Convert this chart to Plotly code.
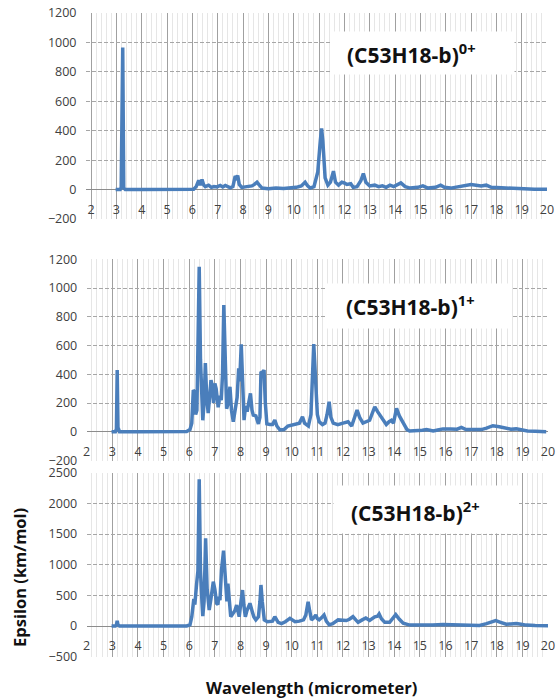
import plotly.graph_objects as go

# ---------------- data ----------------
wl_0 = [2.97, 3.15, 3.19, 3.22, 3.25, 3.29, 3.35, 4.0, 5.0, 5.9, 6.05, 6.15, 6.25, 6.31, 6.38, 6.45,
        6.51, 6.64, 6.75, 6.85, 6.97, 7.1, 7.2, 7.3, 7.36, 7.5, 7.6, 7.69, 7.74, 7.79, 7.85, 7.95,
        8.15, 8.35, 8.45, 8.55, 8.62, 8.75, 9.0, 9.3, 9.6, 9.9, 10.1, 10.3, 10.45, 10.55, 10.65,
        10.8, 10.95, 11.05, 11.1, 11.15, 11.24, 11.35, 11.45, 11.57, 11.65, 11.77, 11.9, 12.0,
        12.1, 12.25, 12.35, 12.5, 12.65, 12.75, 12.85, 13.0, 13.2, 13.35, 13.5, 13.65, 13.8,
        13.95, 14.1, 14.23, 14.4, 14.6, 14.9, 15.1, 15.3, 15.6, 15.8, 15.95, 16.2, 16.5, 16.8,
        17.0, 17.2, 17.4, 17.6, 17.8, 18.2, 18.6, 19.0, 19.5, 20.0]
eps_0 = [0, 0, 15, 960, 965, 10, 0, 0, 0, 0, 2, 20, 63, 30, 68, 30,
         20, 30, 15, 20, 18, 28, 18, 28, 25, 12, 20, 91, 80, 95, 35, 15,
         20, 25, 35, 50, 35, 10, 5, 10, 8, 12, 15, 25, 50, 25, 10,
         20, 120, 330, 415, 330, 80, 30, 50, 125, 50, 30, 50, 45,
         35, 40, 15, 20, 60, 109, 50, 25, 30, 20, 25, 15, 30,
         20, 35, 45, 20, 10, 15, 25, 10, 15, 30, 15, 10, 20, 28,
         34, 30, 25, 30, 15, 12, 8, 5, 3, 2]

wl_1 = [2.97, 3.12, 3.16, 3.19, 3.22, 3.28, 4.0, 5.0, 5.9, 6.03, 6.1, 6.16, 6.2, 6.25, 6.3, 6.35,
        6.39, 6.44, 6.48, 6.53, 6.58, 6.63, 6.68, 6.74, 6.8, 6.85, 6.9, 6.95, 7.0, 7.05, 7.13,
        7.2, 7.25, 7.3, 7.35, 7.4, 7.46, 7.52, 7.59, 7.65, 7.72, 7.8, 7.87, 7.93, 7.97, 8.03,
        8.08, 8.14, 8.2, 8.26, 8.32, 8.39, 8.45, 8.5, 8.6, 8.7, 8.76, 8.8, 8.86, 8.92, 8.97,
        9.03, 9.15, 9.25, 9.34, 9.42, 9.54, 9.7, 9.85, 9.99, 10.15, 10.3, 10.42, 10.5, 10.65,
        10.75, 10.86, 10.93, 11.0, 11.07, 11.2, 11.3, 11.38, 11.46, 11.53, 11.62, 11.8, 12.0,
        12.2, 12.34, 12.45, 12.55, 12.65, 12.78, 13.04, 13.15, 13.24, 13.35, 13.43, 13.55,
        13.69, 13.8, 13.89, 13.97, 14.09, 14.2, 14.35, 14.5, 14.6, 14.9, 15.1, 15.26, 15.52,
        15.7, 15.9, 16.2, 16.45, 16.62, 16.8, 17.1, 17.4, 17.6, 17.85, 18.1, 18.37, 18.55,
        18.76, 19.0, 19.2, 19.5, 19.93]
eps_1 = [0, 0, 20, 429, 30, 0, 0, 0, 2, 15, 60, 290, 280, 120, 150, 700,
         1148, 500, 200, 80, 200, 478, 250, 130, 250, 360, 320, 200, 337, 300, 170,
         250, 220, 400, 882, 600, 160, 200, 313, 150, 70, 160, 240, 441, 350, 608,
         300, 81, 180, 140, 200, 267, 150, 116, 110, 55, 100, 418, 410, 429, 200,
         55, 50, 50, 81, 40, 12, 15, 40, 47, 50, 60, 104, 60, 40,
         120, 610, 300, 120, 70, 50, 60, 120, 209, 100, 60, 50, 60,
         70, 40, 100, 151, 100, 60, 80, 130, 174, 140, 120, 80,
         50, 70, 80, 60, 163, 110, 60, 15, 5, 5, 10, 15, 5,
         12, 20, 20, 18, 30, 15, 15, 15, 25, 42, 35, 25, 18,
         20, 12, 5, 3, 0]

wl_2 = [2.97, 3.12, 3.16, 3.19, 3.22, 3.28, 4.0, 5.0, 5.9, 6.03, 6.1, 6.18, 6.22, 6.29, 6.34, 6.39,
        6.44, 6.5, 6.53, 6.58, 6.64, 6.7, 6.78, 6.85, 6.9, 6.94, 7.0, 7.07, 7.12, 7.15, 7.2,
        7.26, 7.34, 7.39, 7.43, 7.47, 7.51, 7.56, 7.62, 7.7, 7.78, 7.85, 7.95, 8.02, 8.08,
        8.13, 8.19, 8.25, 8.37, 8.45, 8.52, 8.6, 8.7, 8.76, 8.8, 8.85, 8.93, 9.05, 9.15, 9.25,
        9.34, 9.4, 9.47, 9.6, 9.75, 9.93, 10.05, 10.13, 10.3, 10.46, 10.55, 10.64, 10.7, 10.77,
        10.85, 10.94, 11.0, 11.07, 11.15, 11.26, 11.35, 11.46, 11.6, 11.81, 12.0, 12.13, 12.25,
        12.39, 12.5, 12.59, 12.75, 12.89, 13.04, 13.15, 13.24, 13.35, 13.41, 13.5, 13.63,
        13.82, 13.95, 14.06, 14.2, 14.35, 14.61, 15.0, 15.5, 15.9, 16.3, 16.8, 17.33, 17.6,
        17.96, 18.15, 18.37, 18.55, 18.76, 18.95, 19.15, 19.5, 20.0]
eps_2 = [0, 0, 20, 87, 20, 0, 0, 0, 2, 20, 150, 440, 350, 696, 900, 2392,
         900, 370, 160, 400, 1430, 600, 261, 450, 650, 723, 600, 370, 350, 480, 420,
         913, 1228, 900, 696, 400, 690, 400, 152, 200, 250, 342, 152, 400, 587,
         350, 152, 250, 370, 250, 150, 100, 150, 400, 669, 400, 100, 70, 70, 80,
         152, 100, 60, 40, 70, 125, 100, 70, 80, 100, 180, 397, 250, 100,
         130, 180, 120, 100, 130, 180, 80, 20, 40, 100, 95, 90, 110,
         152, 100, 60, 100, 130, 90, 120, 150, 160, 196, 120, 60,
         60, 120, 185, 110, 45, 15, 10, 15, 25, 20, 15, 10, 40,
         87, 60, 30, 35, 40, 30, 15, 8, 5]

panel_labels = ["(C53H18-b)<sup>0+</sup>", "(C53H18-b)<sup>1+</sup>", "(C53H18-b)<sup>2+</sup>"]
y_ranges = [[-200, 1200], [-200, 1200], [-500, 2500]]
y_dticks = [200, 200, 500]
x_ranges = [[1.8, 20], [2, 20], [2, 20]]
x_title = "Wavelength (micrometer)"
y_title = "Epsilon (km/mol)"

# ---------------- layout geometry (pixels of the 559x700 page) ----------------
W, H = 559, 700
def fx(px):
    return px / W
def fy(py):
    return 1 - py / H

x_dom = [[fx(86), fx(547)], [fx(86.7), fx(548)], [fx(86.7), fx(548)]]
y_dom = [[fy(219), fy(13)], [fy(460.5), fy(259.3)], [fy(656.7), fy(472.7)]]
zero_pos = [fy(190), fy(431.7), fy(626)]
box_center = [(423, 53), (419, 306), (426, 509.5)]
box_size = [(180, 40), (182, 42), (182, 45)]
text_center = [(411, 53), (410, 305), (415, 511)]

LINE = "#4A7EBB"
TICKFONT = dict(family="Open Sans", size=12.5, color="#404040")

fig = go.Figure()
series = [(wl_0, eps_0), (wl_1, eps_1), (wl_2, eps_2)]
for i, (xs, ys) in enumerate(series):
    n = "" if i == 0 else str(i + 1)
    fig.add_trace(go.Scatter(x=xs, y=ys, mode="lines",
                             line=dict(color=LINE, width=3.5),
                             xaxis="x" + n, yaxis="y" + n, showlegend=False,
                             hoverinfo="skip"))
    fig.layout["xaxis" + n] = dict(
        domain=x_dom[i], range=x_ranges[i], anchor="free", position=zero_pos[i],
        dtick=1, tick0=0, showgrid=True, gridcolor="#A0A0A0", gridwidth=1,
        minor=dict(dtick=0.2, showgrid=True, gridcolor="#E6E6E6", gridwidth=1),
        zeroline=False, showline=False, ticks="outside", ticklen=8,
        tickcolor="rgba(0,0,0,0)", tickfont=TICKFONT, automargin=False,
        fixedrange=True)
    fig.layout["yaxis" + n] = dict(
        domain=y_dom[i], range=y_ranges[i], anchor="x" + n, dtick=y_dticks[i],
        showgrid=True, gridcolor="#A6A6A6", griddash="4px,2px", gridwidth=1,
        zeroline=True, zerolinecolor="#8C8C8C", zerolinewidth=1,
        showline=False, ticks="outside", ticklen=6, tickcolor="rgba(0,0,0,0)",
        tickfont=TICKFONT, automargin=False, fixedrange=True)
    bx, by = box_center[i]
    bw, bh = box_size[i]
    fig.add_annotation(xref="paper", yref="paper", x=fx(bx), y=fy(by),
                       text=" ", showarrow=False,
                       xanchor="center", yanchor="middle", width=bw, height=bh,
                       bgcolor="white", font=dict(size=10))
    tx, ty = text_center[i]
    fig.add_annotation(xref="paper", yref="paper", x=fx(tx), y=fy(ty),
                       text="<b>" + panel_labels[i] + "</b>", showarrow=False,
                       xanchor="center", yanchor="middle",
                       font=dict(family="Open Sans", size=21, color="#111111"))

fig.add_annotation(xref="paper", yref="paper", x=fx(311), y=fy(687),
                   text="<b>" + x_title + "</b>", showarrow=False,
                   xanchor="center", yanchor="middle",
                   font=dict(family="Open Sans", size=16.5, color="#111111"))
fig.add_annotation(xref="paper", yref="paper", x=fx(19), y=fy(578),
                   text="<b>" + y_title + "</b>", showarrow=False, textangle=-90,
                   xanchor="center", yanchor="middle",
                   font=dict(family="Open Sans", size=16.5, color="#111111"))

fig.update_layout(width=W, height=H, margin=dict(l=0, r=0, t=0, b=0),
                  paper_bgcolor="white", plot_bgcolor="white")

fig.write_html("out.html")
